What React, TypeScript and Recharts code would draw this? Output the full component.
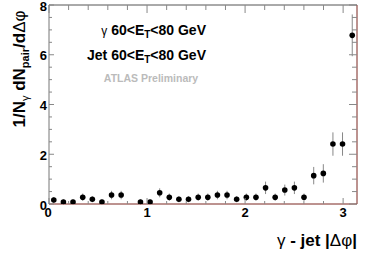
import React from 'react';
import { ScatterChart, Scatter, XAxis, YAxis, ErrorBar } from 'recharts';

// bin centres of |dphi| (32 bins over 0..pi)
const binCenters = [
    0.049, 0.147, 0.245, 0.344, 0.442, 0.540, 0.638, 0.736,
    0.834, 0.933, 1.031, 1.129, 1.227, 1.325, 1.423, 1.522,
    1.620, 1.718, 1.816, 1.914, 2.013, 2.111, 2.209, 2.307,
    2.405, 2.503, 2.601, 2.700, 2.798, 2.896, 2.994, 3.093,
];

const yields: (number | null)[] = [
    0.16, 0.08, 0.08, 0.27, 0.19, 0.08, 0.36, 0.36,
    null, 0.08, 0.08, 0.45, 0.27, 0.19, 0.19, 0.27,
    0.27, 0.36, 0.36, 0.19, 0.27, 0.27, 0.65, 0.27,
    0.56, 0.65, 0.27, 1.14, 1.23, 2.41, 2.41, 6.78,
];

const errors = [
    0.12, 0.1, 0.1, 0.15, 0.12, 0.1, 0.17, 0.17,
    0, 0.1, 0.1, 0.18, 0.15, 0.12, 0.12, 0.15,
    0.15, 0.17, 0.17, 0.12, 0.15, 0.15, 0.25, 0.15,
    0.22, 0.25, 0.15, 0.35, 0.37, 0.47, 0.47, 0.84,
];

const xTicks = [0, 0.2, 0.4, 0.6, 0.8, 1, 1.2, 1.4, 1.6, 1.8, 2, 2.2, 2.4, 2.6, 2.8, 3];
const yTicks = [0, 0.5, 1, 1.5, 2, 2.5, 3, 3.5, 4, 4.5, 5, 5.5, 6, 6.5, 7, 7.5, 8];

const data = binCenters
    .map((x, i) => ({ x, y: yields[i], err: errors[i] }))
    .filter(d => d.y !== null);

const FONT = '"Liberation Sans", Arial, sans-serif';
const TICK = '#888';
const FRAME_RED = '#7a2620';

const isMajor = (v: number) => Math.abs(v - Math.round(v)) < 1e-6;
const isMajorY = (v: number) => Math.abs(v / 2 - Math.round(v / 2)) < 1e-6;

const BottomTick = ({ x, y, payload }: any) => {
    const major = isMajor(payload.value);
    return (
        <g>
            <line x1={x} x2={x} y1={y} y2={y - (major ? 6 : 3)} stroke={TICK} />
            {major && (
                <text x={payload.value === 0 ? x - 1 : x} y={y + 12.5} textAnchor="middle"
                    fontFamily={FONT} fontWeight="bold" fontSize={13} fill="#000">
                    {payload.value}
                </text>
            )}
        </g>
    );
};

const TopTick = ({ x, y, payload }: any) => {
    const major = isMajor(payload.value);
    return <line x1={x} x2={x} y1={y} y2={y + (major ? 8 : 5)} stroke={TICK} />;
};

const LeftTick = ({ x, y, payload }: any) => {
    const major = isMajorY(payload.value);
    return (
        <g>
            <line x1={x} x2={x + (major ? 5 : 3)} y1={y} y2={y} stroke={TICK} />
            {major && (
                <text x={x - 2} y={y + 5.5} textAnchor="end"
                    fontFamily={FONT} fontWeight="bold" fontSize={13} fill="#000">
                    {payload.value}
                </text>
            )}
        </g>
    );
};

const RightTick = ({ x, y, payload }: any) => {
    const major = isMajorY(payload.value);
    return <line x1={x} x2={x - (major ? 8 : 5)} y1={y} y2={y} stroke={TICK} />;
};

const Dot = ({ cx, cy }: any) => <circle cx={cx} cy={cy} r={2.8} fill="#000" />;

const App: React.FC = () => {
    return (
        <div style={{ position: 'absolute', left: 0, top: 0, width: 374, height: 253, background: '#fff' }}>
            <ScatterChart width={374} height={253} margin={{ top: 0, right: 0, left: 0, bottom: 0 }}>
                <XAxis
                    xAxisId="b" type="number" dataKey="x" domain={[0, Math.PI]} ticks={xTicks}
                    orientation="bottom" height={49} interval={0}
                    tickLine={false} tickSize={0} tickMargin={0}
                    axisLine={{ stroke: FRAME_RED }} tick={<BottomTick />}
                    allowDataOverflow
                />
                <XAxis
                    xAxisId="t" type="number" dataKey="x" domain={[0, Math.PI]} ticks={xTicks}
                    orientation="top" height={5} interval={0}
                    tickLine={false} tickSize={0} tickMargin={0}
                    axisLine={{ stroke: '#555' }} tick={<TopTick />}
                    allowDataOverflow
                />
                <YAxis
                    yAxisId="l" type="number" dataKey="y" domain={[0, 8]} ticks={yTicks}
                    orientation="left" width={49} interval={0}
                    tickLine={false} tickSize={0} tickMargin={0}
                    axisLine={{ stroke: '#777' }} tick={<LeftTick />}
                    allowDataOverflow
                />
                <YAxis
                    yAxisId="r" type="number" dataKey="y" domain={[0, 8]} ticks={yTicks}
                    orientation="right" width={17} interval={0}
                    tickLine={false} tickSize={0} tickMargin={0}
                    axisLine={{ stroke: FRAME_RED }} tick={<RightTick />}
                    allowDataOverflow
                />
                <Scatter data={data} xAxisId="b" yAxisId="l" shape={<Dot />} isAnimationActive={false}>
                    <ErrorBar dataKey="err" direction="y" width={0} stroke="#888" strokeWidth={1} />
                </Scatter>
            </ScatterChart>
            <svg width={374} height={253} style={{ position: 'absolute', left: 0, top: 0, pointerEvents: 'none' }}
                fontFamily={FONT}>
                <text x={206} y={35} textAnchor="end" fontSize={14} fontWeight="bold" fill="#000">
                    <tspan fontWeight="normal" fontSize={12}>γ</tspan>
                    <tspan> 60&lt;E</tspan>
                    <tspan fontSize={10} dy={3}>T</tspan>
                    <tspan dy={-3}>&lt;80 GeV</tspan>
                </text>
                <text x={206} y={60} textAnchor="end" fontSize={14} fontWeight="bold" fill="#000">
                    <tspan>Jet 60&lt;E</tspan>
                    <tspan fontSize={10} dy={3}>T</tspan>
                    <tspan dy={-3}>&lt;80 GeV</tspan>
                </text>
                <text x={151} y={82} textAnchor="middle" fontSize={10.5} fontWeight="bold" fill="#bbb">
                    ATLAS Preliminary
                </text>
                <text x={357} y={246} textAnchor="end" fontSize={17} fontWeight="bold" fill="#000">
                    <tspan fontWeight="normal">γ</tspan>
                    <tspan> - jet |</tspan>
                    <tspan fontWeight="normal">Δφ</tspan>
                    <tspan>|</tspan>
                </text>
                <text transform="rotate(-90)" x={-69} y={25} textAnchor="middle" fontSize={17} fontWeight="bold" fill="#000">
                    <tspan>1/N</tspan>
                    <tspan fontSize={11} fontWeight="normal" dy={4}>γ</tspan>
                    <tspan dy={-4}> dN</tspan>
                    <tspan fontSize={11} dy={4}>pair</tspan>
                    <tspan dy={-4}>/d</tspan>
                    <tspan fontWeight="normal">Δφ</tspan>
                </text>
            </svg>
        </div>
    );
};

export default App;
